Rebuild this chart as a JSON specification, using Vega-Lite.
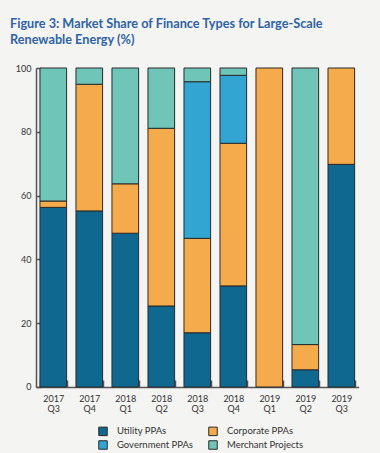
{
  "$schema": "https://vega.github.io/schema/vega-lite/v6.json",
  "width": 322.6,
  "height": 319,
  "autosize": {"type": "none"},
  "padding": {"left": 36, "top": 68, "right": 21, "bottom": 66},
  "background": "#f4f4f2",
  "title": {
    "text": ["Figure 3: Market Share of Finance Types for Large-Scale", "Renewable Energy (%)"],
    "anchor": "start",
    "frame": "group",
    "dx": -26,
    "offset": 4,
    "baseline": "bottom",
    "font": "Lato",
    "fontSize": 12.7,
    "fontWeight": "bold",
    "lineHeight": 16,
    "color": "#2f63a6"
  },
  "data": {
    "values": [
      {"quarter": "2017 Q3", "type": "Utility PPAs", "rank": 1, "share": 56.3},
      {"quarter": "2017 Q3", "type": "Corporate PPAs", "rank": 2, "share": 2.0},
      {"quarter": "2017 Q3", "type": "Merchant Projects", "rank": 4, "share": 41.7},
      {"quarter": "2017 Q4", "type": "Utility PPAs", "rank": 1, "share": 55.2},
      {"quarter": "2017 Q4", "type": "Corporate PPAs", "rank": 2, "share": 39.7},
      {"quarter": "2017 Q4", "type": "Merchant Projects", "rank": 4, "share": 5.1},
      {"quarter": "2018 Q1", "type": "Utility PPAs", "rank": 1, "share": 48.2},
      {"quarter": "2018 Q1", "type": "Corporate PPAs", "rank": 2, "share": 15.5},
      {"quarter": "2018 Q1", "type": "Merchant Projects", "rank": 4, "share": 36.3},
      {"quarter": "2018 Q2", "type": "Utility PPAs", "rank": 1, "share": 25.4},
      {"quarter": "2018 Q2", "type": "Corporate PPAs", "rank": 2, "share": 55.7},
      {"quarter": "2018 Q2", "type": "Merchant Projects", "rank": 4, "share": 18.9},
      {"quarter": "2018 Q3", "type": "Utility PPAs", "rank": 1, "share": 17.0},
      {"quarter": "2018 Q3", "type": "Corporate PPAs", "rank": 2, "share": 29.6},
      {"quarter": "2018 Q3", "type": "Government PPAs", "rank": 3, "share": 49.1},
      {"quarter": "2018 Q3", "type": "Merchant Projects", "rank": 4, "share": 4.3},
      {"quarter": "2018 Q4", "type": "Utility PPAs", "rank": 1, "share": 31.7},
      {"quarter": "2018 Q4", "type": "Corporate PPAs", "rank": 2, "share": 44.7},
      {"quarter": "2018 Q4", "type": "Government PPAs", "rank": 3, "share": 21.3},
      {"quarter": "2018 Q4", "type": "Merchant Projects", "rank": 4, "share": 2.3},
      {"quarter": "2019 Q1", "type": "Corporate PPAs", "rank": 2, "share": 100},
      {"quarter": "2019 Q2", "type": "Utility PPAs", "rank": 1, "share": 5.4},
      {"quarter": "2019 Q2", "type": "Corporate PPAs", "rank": 2, "share": 7.9},
      {"quarter": "2019 Q2", "type": "Merchant Projects", "rank": 4, "share": 86.7},
      {"quarter": "2019 Q3", "type": "Utility PPAs", "rank": 1, "share": 69.8},
      {"quarter": "2019 Q3", "type": "Corporate PPAs", "rank": 2, "share": 30.2}
    ]
  },
  "mark": {"type": "bar", "stroke": "#2a2a2a", "strokeWidth": 1},
  "encoding": {
    "x": {
      "field": "quarter",
      "type": "nominal",
      "sort": null,
      "scale": {"paddingInner": 0.26, "paddingOuter": 0.11},
      "axis": {
        "title": null,
        "labelAngle": 0,
        "labelExpr": "split(datum.label, ' ')",
        "labelFont": "Lato",
        "labelFontSize": 9,
        "labelLineHeight": 10,
        "labelColor": "#333333",
        "labelPadding": 15,
        "tickBand": "extent",
        "tickSize": -7,
        "tickColor": "#555555",
        "tickWidth": 1.5,
        "domainColor": "#555555",
        "domainWidth": 1.5
      }
    },
    "y": {
      "field": "share",
      "type": "quantitative",
      "stack": "zero",
      "scale": {"domain": [0, 100], "nice": false},
      "axis": {
        "title": null,
        "values": [0, 20, 40, 60, 80, 100],
        "grid": false,
        "labelFont": "Lato",
        "labelFontSize": 9,
        "labelColor": "#333333",
        "labelPadding": 10,
        "tickSize": -5,
        "tickColor": "#555555",
        "tickWidth": 1.5,
        "domainColor": "#555555",
        "domainWidth": 1.5
      }
    },
    "order": {"field": "rank", "type": "quantitative", "sort": "ascending"},
    "color": {
      "field": "type",
      "type": "nominal",
      "sort": ["Utility PPAs", "Corporate PPAs", "Government PPAs", "Merchant Projects"],
      "scale": {
        "domain": ["Utility PPAs", "Corporate PPAs", "Government PPAs", "Merchant Projects"],
        "range": ["#0e6890", "#f5ab4c", "#32a5d2", "#6fc5b7"]
      },
      "legend": {
        "title": null,
        "orient": "none",
        "legendX": 62,
        "legendY": 358,
        "direction": "horizontal",
        "columns": 2,
        "columnPadding": 12,
        "rowPadding": 0,
        "symbolType": "square",
        "symbolSize": 72,
        "symbolStrokeColor": "#2a2a2a",
        "symbolStrokeWidth": 1,
        "symbolOpacity": 1,
        "labelFont": "Lato",
        "labelFontSize": 9.5,
        "labelColor": "#333333",
        "labelOffset": 9
      }
    }
  },
  "config": {"view": {"stroke": null}}
}
